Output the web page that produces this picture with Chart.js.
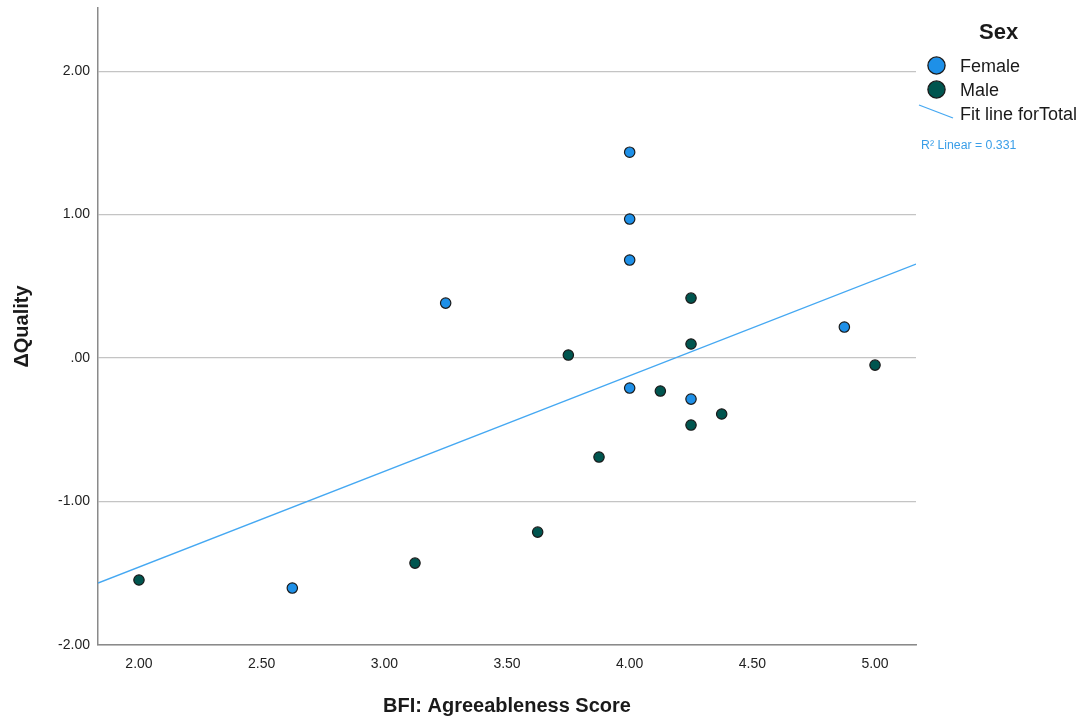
<!DOCTYPE html>
<html>
<head>
<meta charset="utf-8">
<script src="https://cdn.jsdelivr.net/npm/chart.js@4.4.1/dist/chart.umd.min.js"></script>
<style>
  html, body { margin: 0; padding: 0; background: #fff; }
  #wrap { position: relative; width: 1088px; height: 724px; font-family: "Liberation Sans", Arial, sans-serif; }
  #c { position: absolute; left: 0; top: 0; }
  .lg { position: absolute; color: #1a1a1a; white-space: nowrap; line-height: 1; }
</style>
</head>
<body>
<div id="wrap">
  <canvas id="c" width="1088" height="724"></canvas>
  <div class="lg" style="left:979px;top:21px;font-size:22px;font-weight:bold;">Sex</div>
  <svg class="lg" style="left:926px;top:55px;" width="22" height="46">
    <circle cx="10.5" cy="10.5" r="8.6" fill="#1e90e8" stroke="#1a1a1a" stroke-width="1.3"/>
    <circle cx="10.5" cy="34.5" r="8.6" fill="#00554f" stroke="#1a1a1a" stroke-width="1.3"/>
  </svg>
  <div class="lg" style="left:960px;top:57px;font-size:18px;">Female</div>
  <div class="lg" style="left:960px;top:81px;font-size:18px;">Male</div>
  <svg class="lg" style="left:916px;top:100px;" width="42" height="24">
    <line x1="3" y1="5" x2="37" y2="18" stroke="#45a8f2" stroke-width="1.3"/>
  </svg>
  <div class="lg" style="left:960px;top:105px;font-size:18px;">Fit line forTotal</div>
  <div class="lg" style="left:921px;top:139px;font-size:12.3px;color:#3a9ee8;">R² Linear = 0.331</div>
</div>
<script>
// BFI agreeableness score vs. change in quality, split by sex
const femaleX = [4.00, 4.00, 4.00, 3.25, 4.875, 4.00, 4.25, 2.625];
const femaleY = [1.435, 0.969, 0.683, 0.383, 0.216, -0.209, -0.286, -1.603];
const maleX = [2.00, 3.125, 3.625, 3.875, 3.75, 4.25, 4.25, 4.125, 4.25, 4.375, 5.00];
const maleY = [-1.547, -1.429, -1.213, -0.690, 0.021, 0.418, 0.098, -0.230, -0.467, -0.390, -0.049];
// total fit line, drawn across the x range
const fitX = [1.833, 5.167];
const fitY = [-1.568, 0.655];
const xTicks = [2.0, 2.5, 3.0, 3.5, 4.0, 4.5, 5.0];
const yTicks = [-2, -1, 0, 1, 2];

const pts = (xs, ys) => xs.map((x, i) => ({ x, y: ys[i] }));
const fmt = v => { const s = Number(v).toFixed(2); return s === '0.00' ? '.00' : s; };
const FONT = "'Liberation Sans', Arial, sans-serif";

new Chart(document.getElementById('c'), {
  type: 'scatter',
  data: {
    datasets: [
      { label: 'Female', data: pts(femaleX, femaleY), backgroundColor: '#1e90e8', borderColor: '#1a1a1a', borderWidth: 1.2, pointRadius: 5.2 },
      { label: 'Male', data: pts(maleX, maleY), backgroundColor: '#00554f', borderColor: '#1a1a1a', borderWidth: 1.2, pointRadius: 5.2 },
      { label: 'Fit line forTotal', type: 'line', data: pts(fitX, fitY), borderColor: '#45a8f2', borderWidth: 1.3, pointRadius: 0, showLine: true, fill: false }
    ]
  },
  options: {
    responsive: false,
    animation: false,
    events: [],
    layout: { padding: { left: 0, top: 8, right: 172, bottom: 0 } },
    plugins: { legend: { display: false }, tooltip: { enabled: false } },
    scales: {
      x: {
        type: 'linear', min: 1.833, max: 5.167,
        afterBuildTicks: s => { s.ticks = xTicks.map(v => ({ value: v })); },
        afterFit: s => { s.height = 79; },
        grid: { display: false, drawTicks: false },
        border: { display: true, color: '#8a8a8a', width: 1.5 },
        ticks: { padding: 11, color: '#222', font: { family: FONT, size: 14 }, callback: v => fmt(v), maxRotation: 0 },
        title: { display: true, text: 'BFI: Agreeableness Score', color: '#1a1a1a', font: { family: FONT, size: 20, weight: 'bold', lineHeight: 1.2 }, padding: { top: 0, bottom: 6 } }
      },
      y: {
        type: 'linear', min: -2, max: 2.44,
        afterBuildTicks: s => { s.ticks = yTicks.map(v => ({ value: v })); },
        afterFit: s => { s.width = 98; s.paddingTop = 0; s.paddingBottom = 0; },
        grid: { color: '#c4c4c4', lineWidth: 1.2, drawTicks: false },
        border: { display: true, color: '#8a8a8a', width: 1.5 },
        ticks: { padding: 8, color: '#222', font: { family: FONT, size: 14 }, callback: v => fmt(v) },
        title: { display: true, text: 'ΔQuality', color: '#1a1a1a', font: { family: FONT, size: 20, weight: 'bold', lineHeight: 1.2 }, padding: { top: 10, bottom: 0 } }
      }
    }
  }
});
</script>
</body>
</html>
